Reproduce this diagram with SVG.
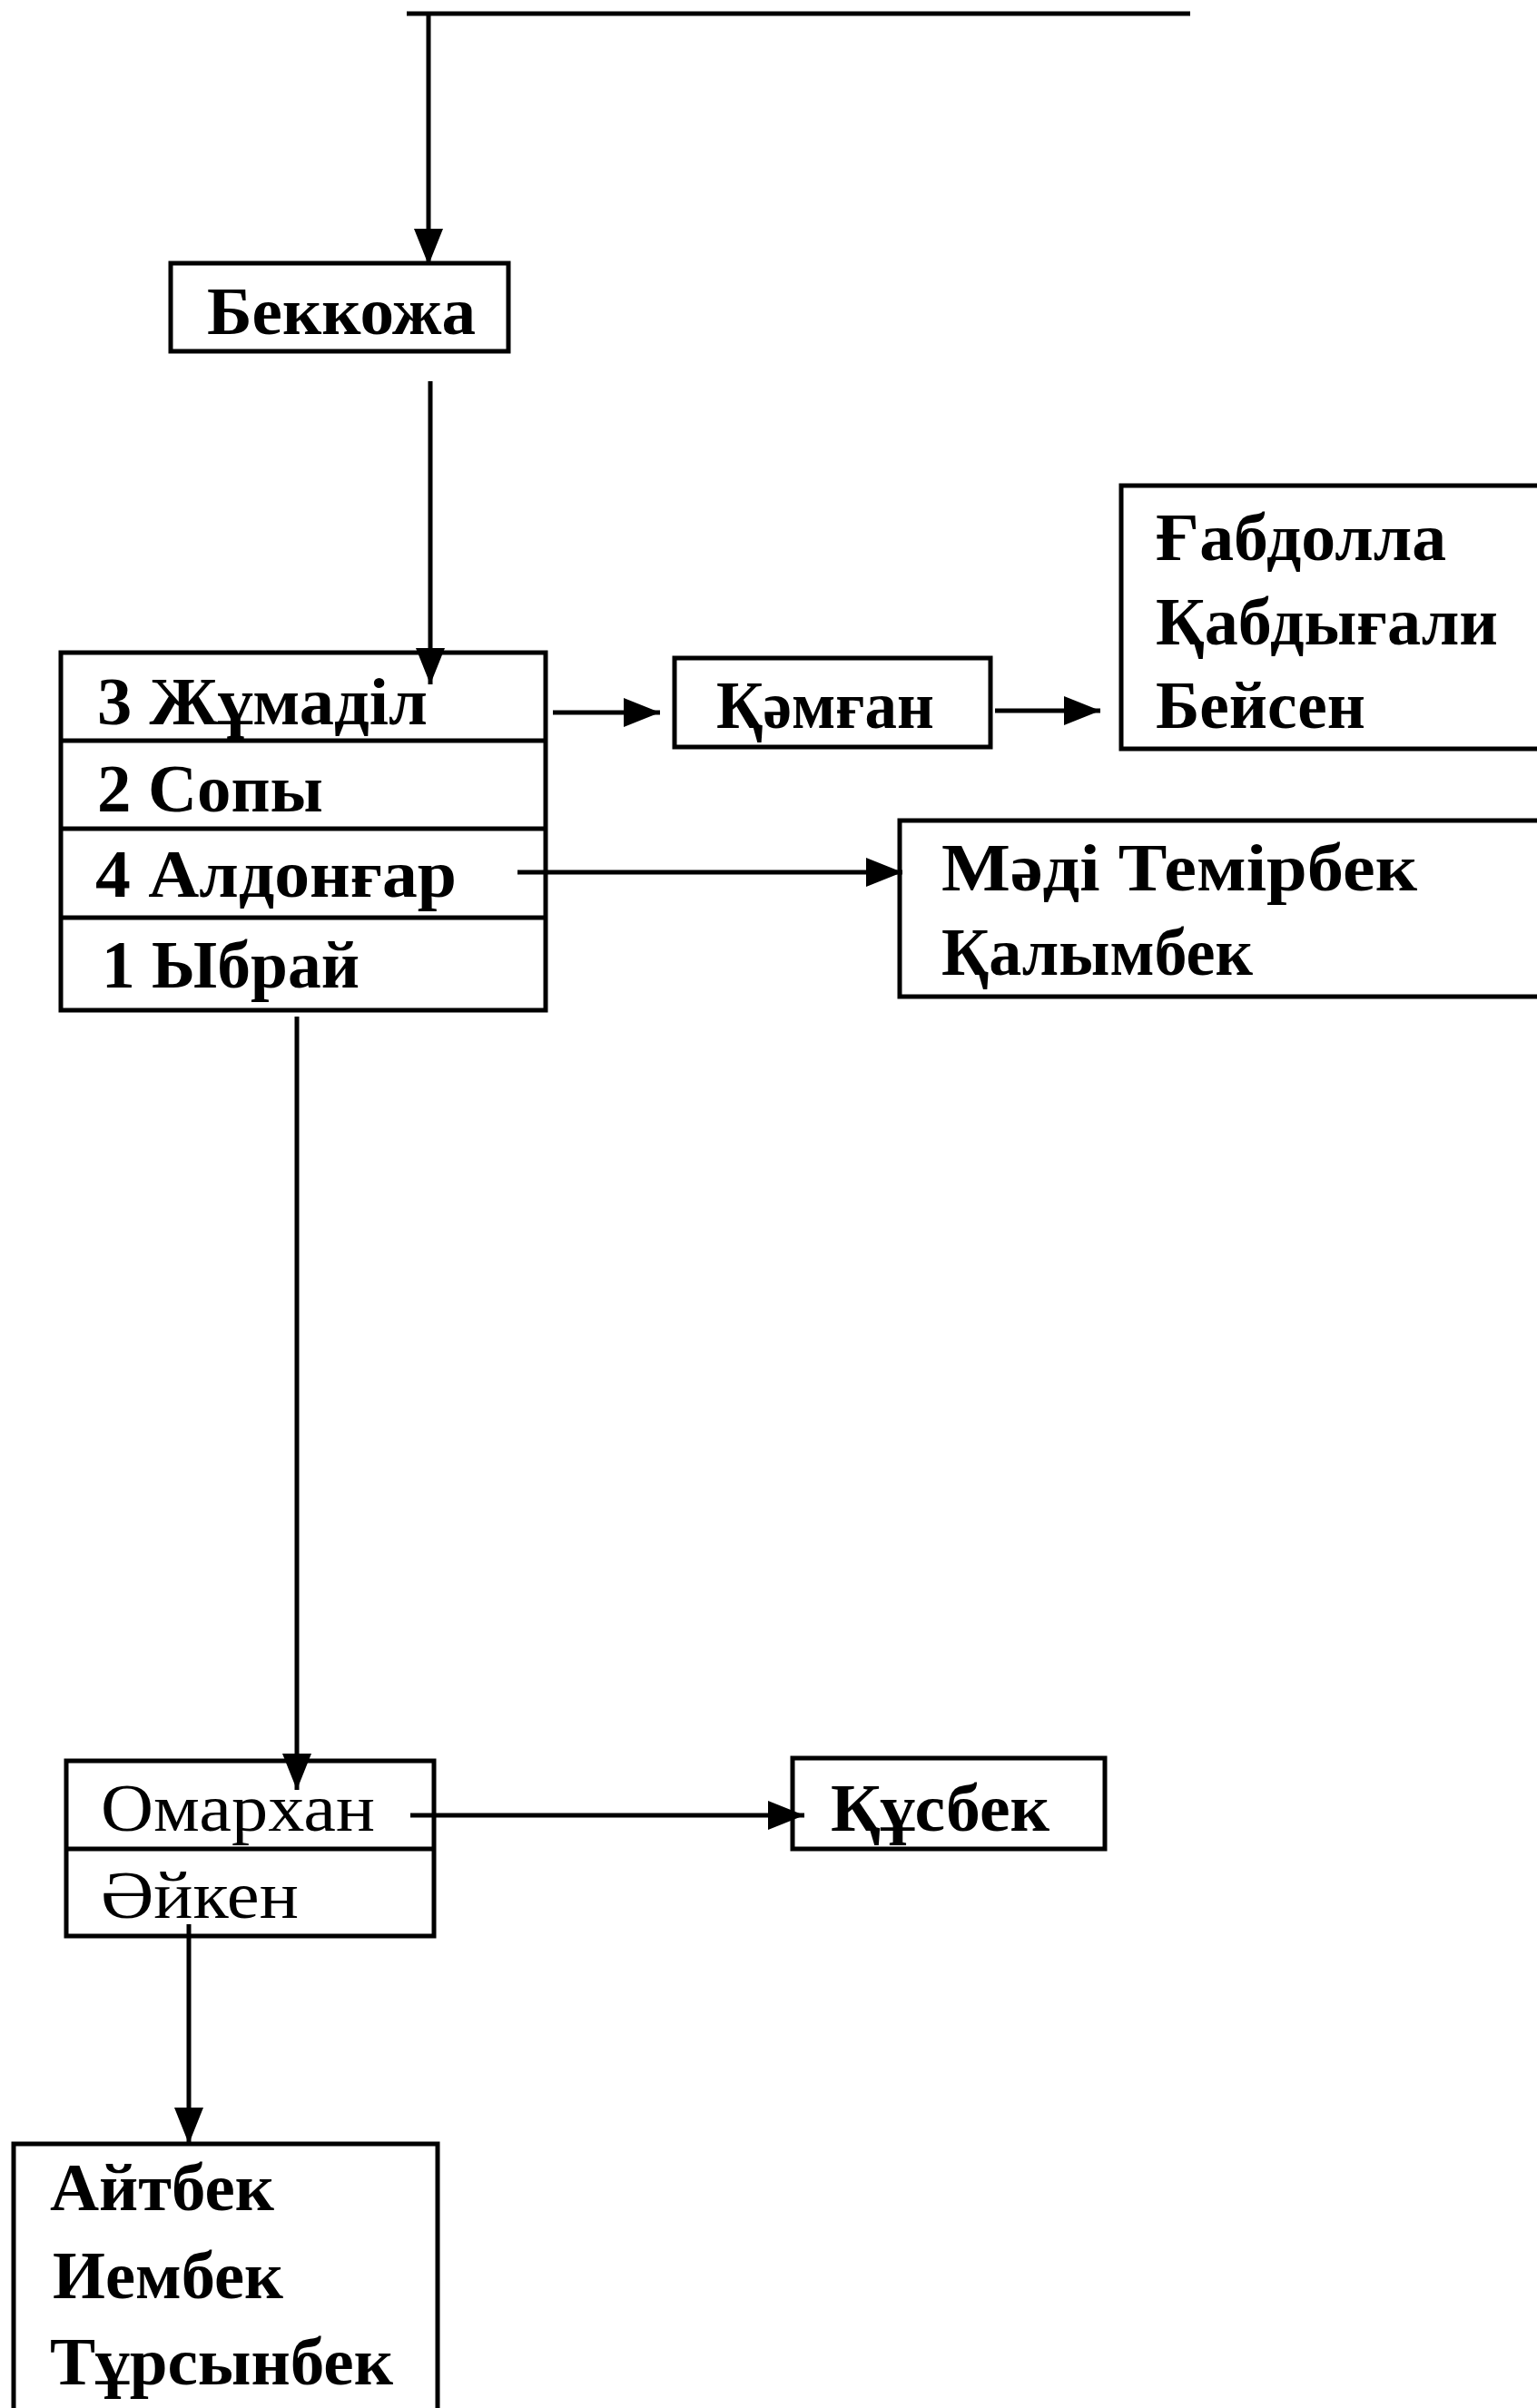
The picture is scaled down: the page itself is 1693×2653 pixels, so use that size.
<svg xmlns="http://www.w3.org/2000/svg" width="1693" height="2653" viewBox="0 0 1693 2653">
<style>
.box{fill:#fff;stroke:#000;stroke-width:5}
.div{stroke:#000;stroke-width:5}
.t{font-family:"Liberation Serif","Times New Roman",serif;font-size:75px;font-weight:bold;fill:#000}
.r{font-weight:normal}
.c{fill:none;stroke:#000;stroke-width:5}
</style>
<defs>
<marker id="ah" markerUnits="userSpaceOnUse" markerWidth="42" markerHeight="34" refX="40" refY="16" orient="auto">
<path d="M0,0 L40,16 L0,32 z" fill="#000"/>
</marker>
</defs>
<rect width="1693" height="2653" fill="#fff"/>
<g id="node-bekkozha">
<rect class="box" x="188" y="290" width="372" height="97"/>
<text class="t" x="228" y="368" textLength="296" lengthAdjust="spacingAndGlyphs">Беккожа</text>
</g>
<g id="node-sons">
<rect class="box" x="67" y="719" width="534" height="394"/>
<line class="div" x1="67" y1="816" x2="601" y2="816"/>
<line class="div" x1="67" y1="913" x2="601" y2="913"/>
<line class="div" x1="67" y1="1011" x2="601" y2="1011"/>
<text class="t" x="107" y="798" textLength="364" lengthAdjust="spacingAndGlyphs">3 Жұмаділ</text>
<text class="t" x="107" y="894" textLength="249" lengthAdjust="spacingAndGlyphs">2 Сопы</text>
<text class="t" x="105" y="988" textLength="398" lengthAdjust="spacingAndGlyphs">4 Алдонғар</text>
<text class="t" x="112" y="1088" textLength="284" lengthAdjust="spacingAndGlyphs">1 Ыбрай</text>
</g>
<g id="node-kamgan">
<rect class="box" x="743" y="725" width="348" height="98"/>
<text class="t" x="789" y="802" textLength="240" lengthAdjust="spacingAndGlyphs">Қәмған</text>
</g>
<g id="node-gabdolla">
<rect class="box" x="1235" y="535" width="500" height="290"/>
<text class="t" x="1273" y="617" textLength="320" lengthAdjust="spacingAndGlyphs">Ғабдолла</text>
<text class="t" x="1273" y="710" textLength="377" lengthAdjust="spacingAndGlyphs">Қабдығали</text>
<text class="t" x="1273" y="802" textLength="231" lengthAdjust="spacingAndGlyphs">Бейсен</text>
</g>
<g id="node-madi">
<rect class="box" x="991" y="904" width="750" height="194"/>
<text class="t" x="1037" y="981" textLength="524" lengthAdjust="spacingAndGlyphs">Мәді  Темірбек</text>
<text class="t" x="1037" y="1074" textLength="343" lengthAdjust="spacingAndGlyphs">Қалымбек</text>
</g>
<g id="node-omarkhan">
<rect class="box" x="73" y="1940" width="405" height="193"/>
<line class="div" x1="73" y1="2037" x2="478" y2="2037"/>
<text class="t r" x="111" y="2017" textLength="302" lengthAdjust="spacingAndGlyphs">Омархан</text>
<text class="t r" x="111" y="2113" textLength="218" lengthAdjust="spacingAndGlyphs">Әйкен</text>
</g>
<g id="node-kusbek">
<rect class="box" x="873" y="1937" width="344" height="100"/>
<text class="t" x="915" y="2017" textLength="241" lengthAdjust="spacingAndGlyphs">Құсбек</text>
</g>
<g id="node-aitbek">
<rect class="box" x="15" y="2362" width="467" height="320"/>
<text class="t" x="55" y="2435" textLength="247" lengthAdjust="spacingAndGlyphs">Айтбек</text>
<text class="t" x="58" y="2532" textLength="254" lengthAdjust="spacingAndGlyphs">Иембек</text>
<text class="t" x="55" y="2627" textLength="378" lengthAdjust="spacingAndGlyphs">Тұрсынбек</text>
</g>
<g id="connectors">
<path class="c" d="M448,15 H1311"/>
<path class="c" d="M472,15 V292" marker-end="url(#ah)"/>
<path class="c" d="M474,420 V754" marker-end="url(#ah)"/>
<path class="c" d="M609,785 H727" marker-end="url(#ah)"/>
<path class="c" d="M1096,783 H1212" marker-end="url(#ah)"/>
<path class="c" d="M570,961 H994" marker-end="url(#ah)"/>
<path class="c" d="M327,1120 V1972" marker-end="url(#ah)"/>
<path class="c" d="M452,2000 H886" marker-end="url(#ah)"/>
<path class="c" d="M208,2120 V2362" marker-end="url(#ah)"/>
</g>
</svg>
